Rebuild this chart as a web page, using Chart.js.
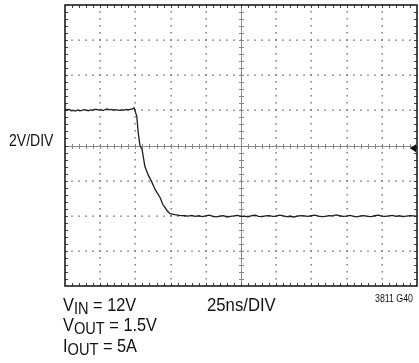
<!DOCTYPE html>
<html>
<head>
<meta charset="utf-8">
<script src="https://cdn.jsdelivr.net/npm/chart.js@4.4.1/dist/chart.umd.min.js"></script>
<style>
  html, body { margin: 0; padding: 0; background: #fff; }
  #wrap { position: relative; width: 419px; height: 363px; overflow: hidden; }
  canvas { position: absolute; left: 0; top: 0; }
  .t { position: absolute; font-family: "Liberation Sans", Arial, sans-serif; color: #111; white-space: nowrap; line-height: 1; transform-origin: 0 0; }
  .sub { font-size: 17px; position: relative; top: 3px; }
</style>
</head>
<body>
<div id="wrap">
  <canvas id="c" width="419" height="363"></canvas>
  <div class="t" id="ylab" style="left:9px; top:132px; font-size:16.5px; transform:scaleX(0.85);">2V/DIV</div>
  <div class="t" style="left:63px; top:295px; font-size:19px; transform:scaleX(0.86);">V<span class="sub">IN</span> = 12V</div>
  <div class="t" style="left:63px; top:315px; font-size:19px; transform:scaleX(0.86);">V<span class="sub">OUT</span> = 1.5V</div>
  <div class="t" style="left:63px; top:336px; font-size:19px; transform:scaleX(0.86);">I<span class="sub">OUT</span> = 5A</div>
  <div class="t" style="left:207px; top:295px; font-size:19px; transform:scaleX(0.88);">25ns/DIV</div>
  <div class="t" style="left:375px; top:293.5px; font-size:10px; transform:scaleX(0.88);">3811 G40</div>
</div>
<script>
// Time axis (ns), 25 ns per division, 10 divisions
const xTicks = [0, 25, 50, 75, 100, 125, 150, 175, 200, 225, 250];
// Voltage axis (V), 2 V per division, 8 divisions
const yTicks = [-8, -6, -4, -2, 0, 2, 4, 6, 8];

// Before the edge (flat high level)
const timePre = [0, 1.5, 3, 4.5, 6, 7.5, 9, 10.5, 12, 13.5, 15, 16.5, 18, 19.5, 21, 22.5, 24, 25.5, 27, 28.5, 30, 31.5, 33, 34.5, 36, 37.5, 39, 40.5, 42, 43.5, 45, 46.5, 48];
const voltPre = [2.06, 2.04, 2.05, 1.98, 2.00, 1.96, 2.02, 1.97, 2.00, 2.04, 2.01, 1.98, 2.03, 2.00, 2.05, 2.06, 2.02, 2.04, 1.99, 2.05, 2.08, 2.03, 2.06, 2.01, 2.04, 2.02, 2.00, 2.03, 2.01, 2.05, 2.03, 2.06, 2.08];

// Falling edge
const timeEdge = [49, 51, 52, 53.25, 54.75, 56.75, 59, 61.75, 64, 67.5, 69.5, 72.5, 74.5, 78, 81, 85];
const voltEdge = [2.14, 1.66, 0.72, 0.0, -0.22, -1.2, -1.66, -2.1, -2.5, -2.96, -3.36, -3.7, -3.88, -3.94, -3.98, -4.0];

// After the edge (flat low level)
const timePost = [87.5, 90, 92.5, 95, 97.5, 100, 102.5, 105, 107.5, 110, 112.5, 115, 117.5, 120, 122.5, 125, 127.5, 130, 132.5, 135, 137.5, 140, 142.5, 145, 147.5, 150, 152.5, 155, 157.5, 160, 162.5, 165, 167.5, 170, 172.5, 175, 177.5, 180, 182.5, 185, 187.5, 190, 192.5, 195, 197.5, 200, 202.5, 205, 207.5, 210, 212.5, 215, 217.5, 220, 222.5, 225, 227.5, 230, 232.5, 235, 237.5, 240, 242.5, 245, 247.5, 250];
const voltPost = [-4.02, -3.98, -4.03, -4.00, -4.05, -4.01, -3.97, -4.04, -4.06, -4.02, -4.00, -4.07, -4.03, -4.01, -3.98, -4.04, -4.02, -4.06, -4.00, -3.96, -4.03, -4.05, -4.01, -3.99, -4.04, -4.02, -3.97, -4.01, -4.05, -4.03, -4.07, -4.02, -3.99, -4.01, -4.04, -4.00, -3.96, -4.02, -4.05, -4.03, -3.99, -4.01, -3.95, -4.00, -4.04, -4.02, -3.98, -4.03, -4.06, -4.01, -3.99, -4.03, -4.05, -4.00, -3.97, -4.02, -4.04, -4.01, -3.98, -4.03, -4.00, -4.05, -4.02, -3.99, -4.01, -4.03];

const times = timePre.concat(timeEdge, timePost);
const volts = voltPre.concat(voltEdge, voltPost);
const points = times.map((t, i) => ({ x: t, y: volts[i] }));

const scopeGrid = {
  id: 'scopeGrid',
  beforeDatasetsDraw(chart) {
    const ctx = chart.ctx;
    const xs = chart.scales.x, ys = chart.scales.y;
    const L = xs.getPixelForValue(xTicks[0]), R = xs.getPixelForValue(xTicks[xTicks.length - 1]);
    const T = ys.getPixelForValue(yTicks[yTicks.length - 1]), B = ys.getPixelForValue(yTicks[0]);
    const xMinor = [], yMinor = [];
    for (let i = 0; i < xTicks.length - 1; i++) {
      const step = (xTicks[i + 1] - xTicks[i]) / 5;
      for (let k = 1; k < 5; k++) xMinor.push(xTicks[i] + k * step);
      if (i > 0) xMinor.push(xTicks[i]);
    }
    for (let i = 0; i < yTicks.length - 1; i++) {
      const step = (yTicks[i + 1] - yTicks[i]) / 5;
      for (let k = 1; k < 5; k++) yMinor.push(yTicks[i] + k * step);
      if (i > 0) yMinor.push(yTicks[i]);
    }
    const xc = xs.getPixelForValue(125), yc = ys.getPixelForValue(0);
    ctx.save();
    // dotted major grid
    ctx.fillStyle = '#707070';
    xTicks.slice(1, -1).forEach(v => {
      if (v === 125) return;
      const px = Math.round(xs.getPixelForValue(v));
      yMinor.forEach(m => {
        const py = Math.round(ys.getPixelForValue(m));
        ctx.fillRect(px - 0.5, py - 1, 1.3, 1.6);
      });
    });
    yTicks.slice(1, -1).forEach(v => {
      if (v === 0) return;
      const py = Math.round(ys.getPixelForValue(v));
      xMinor.forEach(m => {
        const px = Math.round(xs.getPixelForValue(m));
        ctx.fillRect(px - 0.8, py - 0.5, 1.6, 1.3);
      });
    });
    // center crosshair with ticks
    ctx.strokeStyle = '#8a8a8a';
    ctx.lineWidth = 1;
    ctx.beginPath();
    ctx.moveTo(L, Math.round(yc) + 0.5); ctx.lineTo(R, Math.round(yc) + 0.5);
    ctx.moveTo(Math.round(xc) + 0.5, T); ctx.lineTo(Math.round(xc) + 0.5, B);
    xMinor.forEach(m => {
      const px = Math.round(xs.getPixelForValue(m)) + 0.5;
      ctx.moveTo(px, Math.round(yc) - 2); ctx.lineTo(px, Math.round(yc) + 3);
    });
    yMinor.forEach(m => {
      const py = Math.round(ys.getPixelForValue(m)) + 0.5;
      ctx.moveTo(Math.round(xc) - 2, py); ctx.lineTo(Math.round(xc) + 3, py);
    });
    ctx.stroke();
    // frame ticks
    ctx.strokeStyle = '#444';
    ctx.beginPath();
    xMinor.forEach(m => {
      const px = Math.round(xs.getPixelForValue(m)) + 0.5;
      ctx.moveTo(px, T); ctx.lineTo(px, T + 3);
      ctx.moveTo(px, B); ctx.lineTo(px, B - 3);
    });
    yMinor.forEach(m => {
      const py = Math.round(ys.getPixelForValue(m)) + 0.5;
      ctx.moveTo(L, py); ctx.lineTo(L + 3, py);
      ctx.moveTo(R, py); ctx.lineTo(R - 3, py);
    });
    ctx.stroke();
    // frame
    ctx.strokeStyle = '#111';
    ctx.lineWidth = 1.5;
    ctx.strokeRect(L, T, R - L, B - T);
    ctx.restore();
  },
  afterDatasetsDraw(chart) {
    const ctx = chart.ctx;
    const xs = chart.scales.x, ys = chart.scales.y;
    const R = xs.getPixelForValue(xTicks[xTicks.length - 1]);
    const py = ys.getPixelForValue(-0.15);
    ctx.save();
    ctx.fillStyle = '#111';
    ctx.beginPath();
    ctx.moveTo(R - 7, py);
    ctx.lineTo(R - 1, py - 4);
    ctx.lineTo(R - 1, py + 4);
    ctx.closePath();
    ctx.fill();
    ctx.fillRect(R - 3, py - 1, 3, 2);
    ctx.restore();
  }
};

new Chart(document.getElementById('c'), {
  type: 'line',
  data: {
    datasets: [{
      data: points,
      borderColor: '#1e1e1e',
      borderWidth: 1.3,
      pointRadius: 0,
      tension: 0,
      fill: false
    }]
  },
  options: {
    responsive: false,
    animation: false,
    devicePixelRatio: 1,
    layout: { padding: { left: 65, right: 2, top: 5, bottom: 77 } },
    plugins: { legend: { display: false }, tooltip: { enabled: false } },
    scales: {
      x: { type: 'linear', min: xTicks[0], max: xTicks[xTicks.length - 1], display: false },
      y: { type: 'linear', min: yTicks[0], max: yTicks[yTicks.length - 1], display: false }
    }
  },
  plugins: [scopeGrid]
});
</script>
</body>
</html>
